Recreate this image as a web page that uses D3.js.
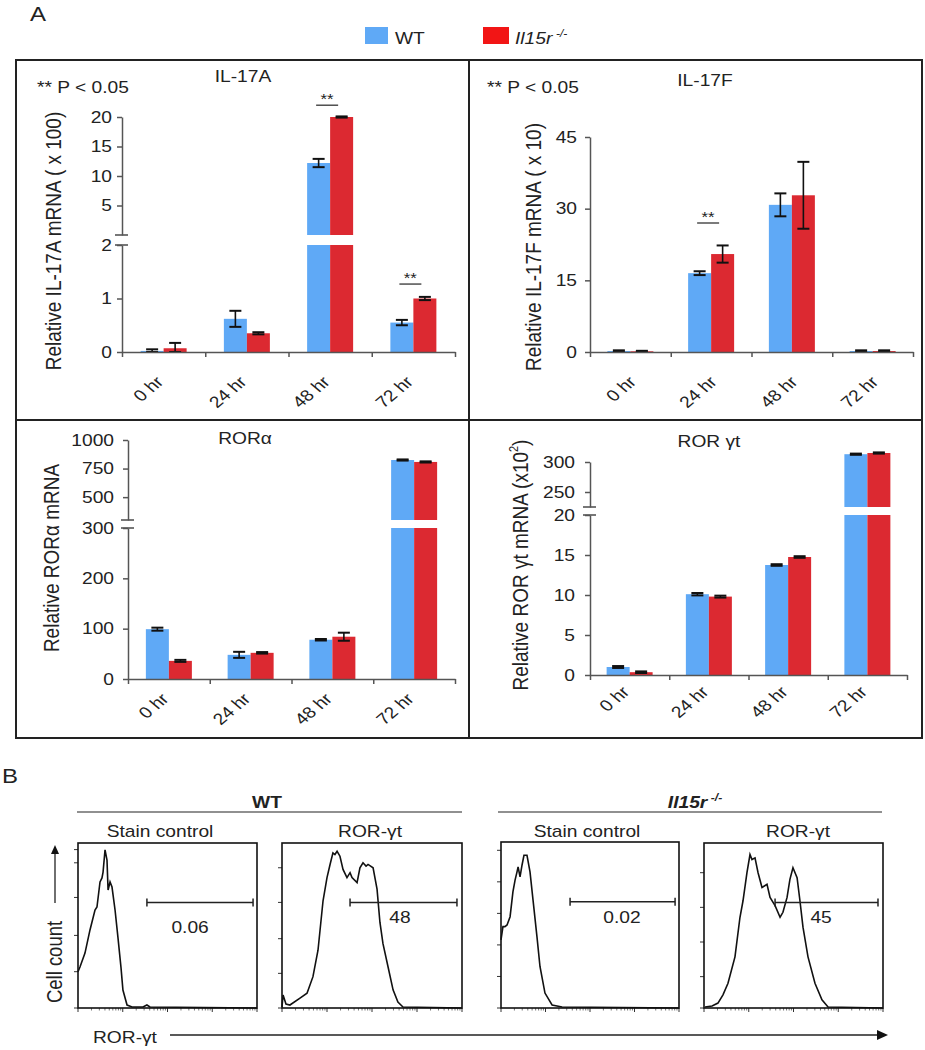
<!DOCTYPE html>
<html><head><meta charset="utf-8">
<script src="https://cdn.jsdelivr.net/npm/d3@7"></script>
<style>body{margin:0;background:#fff}</style>
</head><body>
<svg id="c" width="925" height="1050"></svg>
<script>
// ---------------- DATA ----------------
const times = ["0 hr", "24 hr", "48 hr", "72 hr"];
const seriesNames = ["WT", "Il15r"];

const il17aWT = [0.02, 0.62, 12.2, 0.55];
const il17aWTErr = [0.03, 0.15, 0.7, 0.05];
const il17aKO = [0.07, 0.35, 20, 1.0];
const il17aKOErr = [0.1, 0.02, 0.1, 0.03];
const il17aLowTicks = [0, 1, 2];
const il17aHighTicks = [5, 10, 15, 20];
const il17aSig = [{ time: "48 hr", level: 22 }, { time: "72 hr", level: 1.27 }];

const il17fWT = [0.2, 16.5, 30.8, 0.2];
const il17fWTErr = [0.15, 0.4, 2.4, 0.15];
const il17fKO = [0.15, 20.5, 32.8, 0.2];
const il17fKOErr = [0.1, 1.8, 7, 0.15];
const il17fTicks = [0, 15, 30, 45];
const il17fSig = [{ time: "24 hr", level: 27 }];

const roraWT = [99, 48, 78, 825];
const roraWTErr = [3, 6, 1.5, 5];
const roraKO = [36, 52, 84, 808];
const roraKOErr = [2, 1.5, 8, 5];
const roraLowTicks = [0, 100, 200, 300];
const roraHighTicks = [500, 750, 1000];

const rorgWT = [1.0, 10.1, 13.75, 313];
const rorgWTErr = [0.12, 0.15, 0.1, 1];
const rorgKO = [0.35, 9.8, 14.75, 315];
const rorgKOErr = [0.1, 0.12, 0.1, 1];
const rorgLowTicks = [0, 5, 10, 15, 20];
const rorgHighTicks = [250, 300];

// Flow histograms: channel (0-100 across plot) and count (0-100 of plot height)
const wtStainCh = [0, 1.1, 3.9, 6.7, 9.5, 10.6, 12.3, 13.4, 14, 15.1, 16.2, 16.8, 17.9, 19, 20.7, 22.3, 24, 25.1, 27.4, 30.2, 36.3, 38.5, 40.2, 100];
const wtStainCt = [22, 24.8, 33.3, 47.3, 59.4, 61.2, 76.4, 78.8, 82.4, 95.8, 89.7, 71.5, 76.4, 73.3, 59.4, 43, 24.8, 10.9, 1.8, 0.6, 0.6, 1.8, 0.6, 0];
const wtRorCh = [0, 0.6, 2.2, 4.4, 10, 13.9, 17.2, 20, 22.8, 25, 26.7, 28.3, 29.4, 30.6, 32.2, 33.9, 36.1, 37.8, 38.9, 41.7, 43.3, 45, 46.7, 47.8, 50.6, 52.8, 54.4, 56.1, 58.9, 61.7, 64.4, 67.2, 100];
const wtRorCt = [0.6, 7.9, 2.4, 1.8, 6, 9, 19, 35, 65, 79, 87, 94, 93, 95, 92, 84, 79, 82, 79, 76, 85, 88, 86, 87, 85, 72, 52, 39, 25, 11, 3.6, 0.6, 0];
const koStainCh = [0, 1.1, 2.2, 3.4, 5.1, 6.7, 7.9, 9, 9.6, 10.7, 11.8, 12.9, 14.6, 16.3, 18, 20.2, 21.9, 24.7, 28.7, 34.3, 100];
const koStainCt = [41, 49, 49, 50, 55, 70, 77, 82, 85, 79, 86, 92, 92, 82, 65, 43, 25, 9, 1.8, 0.6, 0];
const koRorCh = [0.6, 4.5, 7.8, 10.6, 13.4, 17.3, 20.1, 21.8, 24, 25.7, 26.8, 28.5, 30.2, 32.4, 35.2, 36.9, 39.7, 42.5, 44.1, 46.4, 48, 49.7, 52, 53.6, 55.3, 58.1, 62, 65.9, 69.3, 100];
const koRorCt = [0.6, 1.2, 3, 8, 15, 31, 55, 65, 82, 93, 90, 91, 82, 73, 75, 67, 62, 55, 58, 67, 78, 85, 79, 65, 49, 31, 15, 5, 0.6, 0];

const gateStarts = [38.5, 37.8, 38.8, 39.7];
const gateEnds = [97.8, 97.2, 97.8, 97.2];
const gateLevel = 64;
const gateLabels = ["0.06", "48", "0.02", "45"];
const gateLabelCh = [62.6, 65.5, 68, 65.4];
const gateLabelCt = [45.5, 51.5, 51.5, 51.5];
const flowTitles = ["Stain control", "ROR-\u03b3t", "Stain control", "ROR-\u03b3t"];

// ---------------- STYLE ----------------
const FONT = '"Liberation Sans", Arial, Helvetica, sans-serif';
const BLUE = "#5fa9f6";
const RED = "#dc2931";
const AX = "#555";
const TXT = "#222";
const SX = 1.2;

const svg = d3.select("#c");

function stext(sel, x, y, str, o = {}) {
  const t = sel.append("text")
    .attr("transform", `translate(${x},${y}) scale(${o.sx ?? SX},1)` + (o.rotate ? ` rotate(${o.rotate})` : ""))
    .attr("text-anchor", o.anchor || "start")
    .attr("font-family", FONT)
    .attr("font-size", o.size || 16)
    .attr("font-weight", o.weight || "normal")
    .attr("font-style", o.style || "normal")
    .attr("fill", o.fill || TXT);
  if (o.dy) t.attr("dy", o.dy);
  if (str !== null) t.text(str);
  return t;
}

// ---------------- PANEL A FRAME ----------------
svg.append("rect").attr("x", 16).attr("y", 60).attr("width", 906).attr("height", 678)
  .attr("fill", "none").attr("stroke", "#222").attr("stroke-width", 2);
svg.append("line").attr("x1", 469).attr("x2", 469).attr("y1", 60).attr("y2", 738).attr("stroke", "#222").attr("stroke-width", 2);
svg.append("line").attr("x1", 16).attr("x2", 922).attr("y1", 420).attr("y2", 420).attr("stroke", "#222").attr("stroke-width", 2);

stext(svg, 30, 21, "A", { size: 20 });
stext(svg, 2, 783, "B", { size: 20 });

// legend
svg.append("rect").attr("x", 365).attr("y", 27).attr("width", 23).attr("height", 17).attr("fill", BLUE);
stext(svg, 395, 44, "WT", { size: 16 });
svg.append("rect").attr("x", 483).attr("y", 27).attr("width", 26).attr("height", 17).attr("fill", "#f21515");
const lg = stext(svg, 515, 44, null, { size: 16, style: "italic" });
lg.append("tspan").text("Il15r");
lg.append("tspan").attr("font-size", 10).attr("dy", -7).attr("dx", 3).text("-/-");

// ---------------- BAR PANELS ----------------
const panels = [
  { title: "IL-17A", titleX: 243, titleY: 82, pval: [37, 93],
    wt: il17aWT, wtErr: il17aWTErr, ko: il17aKO, koErr: il17aKOErr,
    x0: 122, x1: 455, y0: 352,
    low: { domain: [0, 2], range: [352, 245], ticks: il17aLowTicks },
    high: { domain: [0, 20], range: [235, 117], ticks: il17aHighTicks },
    tickGap: 10, lDx: 1, lDy: 31, sig: il17aSig,
    yTitle: ["Relative IL-17A mRNA ( x 100)"], yTitleX: 61, yTitleY: 241 },
  { title: "IL-17F", titleX: 705, titleY: 86, pval: [487, 93],
    wt: il17fWT, wtErr: il17fWTErr, ko: il17fKO, koErr: il17fKOErr,
    x0: 590, x1: 913, y0: 352,
    low: { domain: [0, 45], range: [352, 137], ticks: il17fTicks },
    high: null,
    tickGap: 13, lDx: 7, lDy: 31, sig: il17fSig,
    yTitle: ["Relative IL-17F mRNA ( x 10)"], yTitleX: 541, yTitleY: 247 },
  { title: "ROR\u03b1", titleX: 245, titleY: 444, pval: null,
    wt: roraWT, wtErr: roraWTErr, ko: roraKO, koErr: roraKOErr,
    x0: 128, x1: 455, y0: 679,
    low: { domain: [0, 300], range: [679, 528], ticks: roraLowTicks },
    high: { domain: [300, 1000], range: [520, 440], ticks: roraHighTicks },
    tickGap: 14, lDx: 1, lDy: 21, sig: [],
    yTitle: ["Relative ROR\u03b1 mRNA"], yTitleX: 59, yTitleY: 558 },
  { title: "ROR \u03b3t", titleX: 709, titleY: 447, pval: null,
    wt: rorgWT, wtErr: rorgWTErr, ko: rorgKO, koErr: rorgKOErr,
    x0: 590, x1: 907, y0: 675,
    low: { domain: [0, 20], range: [675, 515], ticks: rorgLowTicks },
    high: { domain: [225, 300], range: [507, 462], ticks: rorgHighTicks },
    tickGap: 15, lDx: 1, lDy: 18, sig: [],
    yTitle: ["Relative ROR \u03b3t mRNA (x10", "2", ")"], yTitleX: 528, yTitleY: 565 }
];

panels.forEach(p => {
  const g = svg.append("g");
  const xb = d3.scaleBand().domain(times).range([p.x0, p.x1]);
  const inner = d3.scaleBand().domain(seriesNames).range([0, 46]);
  const yl = d3.scaleLinear().domain(p.low.domain).range(p.low.range);
  const yh = p.high ? d3.scaleLinear().domain(p.high.domain).range(p.high.range) : null;
  const lowMax = p.low.domain[1];
  const isHigh = v => yh && v > lowMax;
  const yOf = v => isHigh(v) ? yh(v) : yl(v);

  // bars
  [[p.wt, p.wtErr, "WT", BLUE], [p.ko, p.koErr, "Il15r", RED]].forEach(([vals, errs, name, col]) => {
    vals.forEach((v, i) => {
      const bx = xb(times[i]) + (xb.bandwidth() - 46) / 2 + inner(name);
      const bw = inner.bandwidth();
      if (isHigh(v)) {
        g.append("rect").attr("x", bx).attr("width", bw).attr("y", yl(lowMax)).attr("height", yl(0) - yl(lowMax)).attr("fill", col);
        g.append("rect").attr("x", bx).attr("width", bw).attr("y", yh(v)).attr("height", p.high.range[0] - yh(v)).attr("fill", col);
      } else {
        g.append("rect").attr("x", bx).attr("width", bw).attr("y", yl(v)).attr("height", yl(0) - yl(v)).attr("fill", col);
      }
      // error bar
      const sc = isHigh(v) ? yh : yl;
      const cx = bx + bw / 2;
      const yt = sc(v + errs[i]), ybm = sc(isHigh(v) ? v - errs[i] : Math.max(0, v - errs[i]));
      g.append("line").attr("x1", cx).attr("x2", cx).attr("y1", yt).attr("y2", ybm).attr("stroke", "#111").attr("stroke-width", 1.6);
      [yt, ybm].forEach(yy => g.append("line").attr("x1", cx - 6).attr("x2", cx + 6).attr("y1", yy).attr("y2", yy)
        .attr("stroke", "#111").attr("stroke-width", 2));
    });
  });

  // y axes
  const styleAxis = sel => {
    sel.selectAll("path").attr("stroke", AX).attr("stroke-width", 1.5);
    sel.selectAll("line").attr("stroke", AX).attr("stroke-width", 1.5);
    sel.selectAll("text").remove();
  };
  g.append("g").attr("transform", `translate(${p.x0},0)`)
    .call(d3.axisLeft(yl).tickValues(p.low.ticks).tickSize(5).tickSizeOuter(0)).call(styleAxis);
  p.low.ticks.forEach(t => stext(g, p.x0 - p.tickGap, yl(t), String(t), { anchor: "end", dy: "0.36em" }));
  if (yh) {
    g.append("g").attr("transform", `translate(${p.x0},0)`)
      .call(d3.axisLeft(yh).tickValues(p.high.ticks).tickSize(5).tickSizeOuter(0)).call(styleAxis);
    p.high.ticks.forEach(t => stext(g, p.x0 - p.tickGap, yh(t), String(t), { anchor: "end", dy: "0.36em" }));
    [p.low.range[1], p.high.range[0]].forEach(yy =>
      g.append("line").attr("x1", p.x0 - 7).attr("x2", p.x0 + 6).attr("y1", yy).attr("y2", yy).attr("stroke", AX).attr("stroke-width", 1.6));
  }

  // x axis
  const xt = d3.scaleLinear().domain([0, times.length]).range([p.x0, p.x1]);
  g.append("g").attr("transform", `translate(0,${p.y0})`)
    .call(d3.axisBottom(xt).tickValues(d3.range(times.length + 1)).tickFormat("").tickSize(5).tickSizeOuter(0)).call(styleAxis);
  times.forEach(t => stext(g, xb(t) + xb.bandwidth() / 2 + p.lDx, p.y0 + p.lDy, t, { anchor: "end", rotate: -45 }));

  // titles
  stext(g, p.titleX, p.titleY, p.title, { anchor: "middle", size: 16 });
  if (p.pval) stext(g, p.pval[0], p.pval[1], "** P < 0.05", { size: 16 });
  const yt = stext(g, p.yTitleX, p.yTitleY, null, { anchor: "middle", size: 19, rotate: -90 });
  yt.append("tspan").text(p.yTitle[0]);
  if (p.yTitle.length > 1) {
    yt.append("tspan").attr("font-size", 11).attr("dy", -8).text(p.yTitle[1]);
    yt.append("tspan").attr("dy", 8).text(p.yTitle[2]);
  }

  // significance
  p.sig.forEach(s => {
    const cx = xb(s.time) + xb.bandwidth() / 2 - 3;
    const yy = yOf(s.level);
    g.append("line").attr("x1", cx - 11).attr("x2", cx + 11).attr("y1", yy).attr("y2", yy).attr("stroke", "#333").attr("stroke-width", 1.3);
    stext(g, cx, yy - 1, "**", { anchor: "middle", size: 14 });
  });
});

// ---------------- PANEL B ----------------
stext(svg, 267, 808, "WT", { anchor: "middle", weight: "bold", size: 16 });
svg.append("line").attr("x1", 77).attr("x2", 462).attr("y1", 812).attr("y2", 812).attr("stroke", "#222").attr("stroke-width", 1.2);
const koT = stext(svg, 695, 808, null, { anchor: "middle", weight: "bold", style: "italic", size: 16 });
koT.append("tspan").text("Il15r");
koT.append("tspan").attr("font-size", 10).attr("dy", -7).attr("dx", 3).text("-/-");
svg.append("line").attr("x1", 498).attr("x2", 882).attr("y1", 812).attr("y2", 812).attr("stroke", "#222").attr("stroke-width", 1.2);

const flowBoxes = [
  { x: 78, y: 843, w: 179, h: 165, tx: 160, ch: wtStainCh, ct: wtStainCt, yt: [0, 22, 44, 67, 88, 96] },
  { x: 282, y: 843, w: 180, h: 165, tx: 370, ch: wtRorCh, ct: wtRorCt, yt: [0, 21, 42, 64, 85] },
  { x: 501, y: 842, w: 178, h: 166, tx: 587, ch: koStainCh, ct: koStainCt, yt: [0, 19, 38, 57, 76, 95] },
  { x: 704, y: 843, w: 179, h: 165, tx: 798, ch: koRorCh, ct: koRorCt, yt: [0, 19, 40, 61, 82] }
];
const minorLog = [2, 3, 4, 5, 6, 7, 8, 9].map(k => Math.log10(k) * 25);
flowBoxes.forEach((b, i) => {
  const g = svg.append("g");
  const xs = d3.scaleLinear().domain([0, 100]).range([b.x, b.x + b.w]);
  const ys = d3.scaleLinear().domain([0, 100]).range([b.y + b.h, b.y]);
  stext(g, b.tx, 837, flowTitles[i], { anchor: "middle", size: 16 });
  // ticks
  b.yt.forEach(t => g.append("line").attr("x1", b.x - 4).attr("x2", b.x).attr("y1", ys(t)).attr("y2", ys(t)).attr("stroke", "#333").attr("stroke-width", 1));
  [0, 25, 50, 75, 100].forEach(t => g.append("line").attr("x1", xs(t)).attr("x2", xs(t)).attr("y1", b.y + b.h).attr("y2", b.y + b.h + 4).attr("stroke", "#333").attr("stroke-width", 1));
  [0, 25, 50, 75].forEach(d0 => minorLog.forEach(m => g.append("line").attr("x1", xs(d0 + m)).attr("x2", xs(d0 + m))
    .attr("y1", b.y + b.h).attr("y2", b.y + b.h + 2.5).attr("stroke", "#555").attr("stroke-width", 0.8)));
  // histogram
  const pts = b.ch.map((c, k) => [c, b.ct[k]]);
  g.append("path").datum(pts).attr("fill", "none").attr("stroke", "#111").attr("stroke-width", 1.6)
    .attr("d", d3.line().x(d => xs(d[0])).y(d => ys(d[1])));
  g.append("rect").attr("x", b.x).attr("y", b.y).attr("width", b.w).attr("height", b.h)
    .attr("fill", "none").attr("stroke", "#111").attr("stroke-width", 1.6);
  // gate
  const gy = ys(gateLevel);
  g.append("line").attr("x1", xs(gateStarts[i])).attr("x2", xs(gateEnds[i])).attr("y1", gy).attr("y2", gy).attr("stroke", "#222").attr("stroke-width", 1.5);
  [gateStarts[i], gateEnds[i]].forEach(c => g.append("line").attr("x1", xs(c)).attr("x2", xs(c)).attr("y1", gy - 4).attr("y2", gy + 4).attr("stroke", "#222").attr("stroke-width", 1.5));
  stext(g, xs(gateLabelCh[i]), ys(gateLabelCt[i]), gateLabels[i], { anchor: "middle", size: 16 });
});

// Cell count arrow
stext(svg, 62, 962, "Cell count", { anchor: "middle", size: 18.5, rotate: -90 });
svg.append("line").attr("x1", 55).attr("x2", 55).attr("y1", 903).attr("y2", 852).attr("stroke", "#222").attr("stroke-width", 1.3);
svg.append("path").attr("d", "M55,845 L51,854 L59,854 Z").attr("fill", "#111");
// ROR-γt arrow
stext(svg, 93, 1043, "ROR-\u03b3t", { size: 16 });
svg.append("line").attr("x1", 170).attr("x2", 878).attr("y1", 1035).attr("y2", 1035).attr("stroke", "#222").attr("stroke-width", 1.3);
svg.append("path").attr("d", "M888,1035 L877,1030 L877,1040 Z").attr("fill", "#111");
</script>
</body></html>
